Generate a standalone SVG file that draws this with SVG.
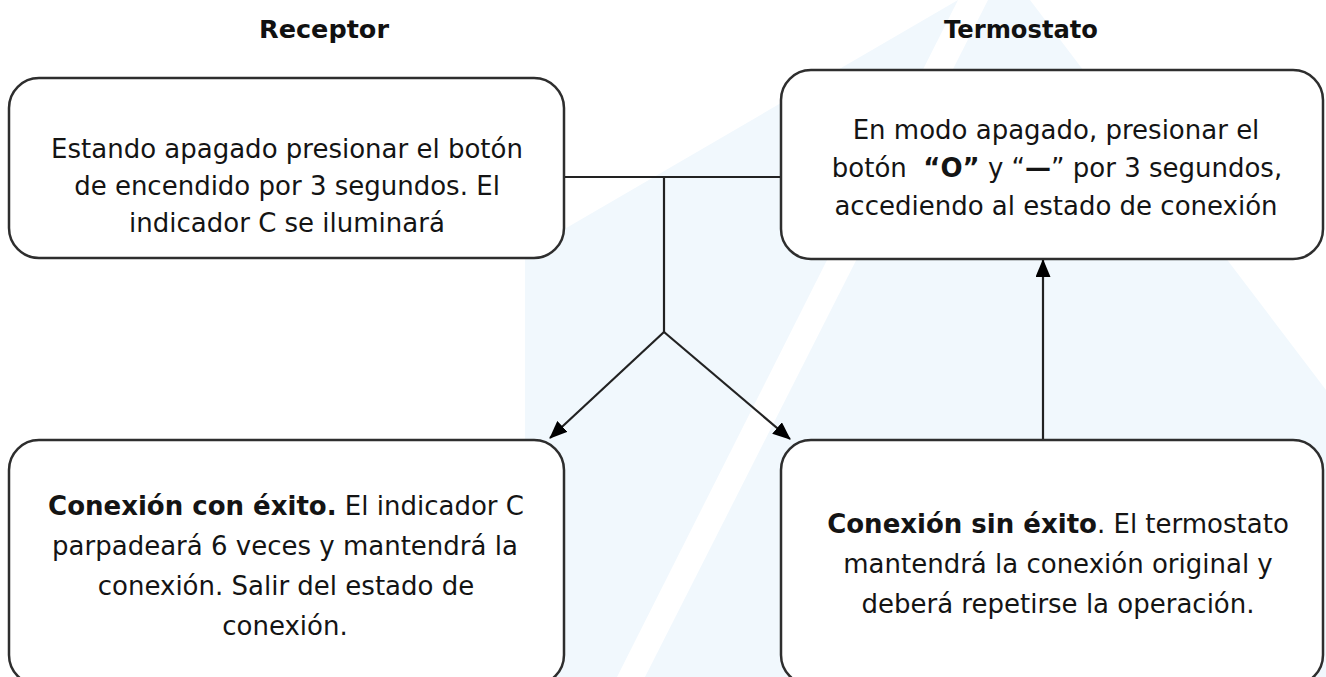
<svg xmlns="http://www.w3.org/2000/svg" width="1326" height="677" viewBox="0 0 1326 677">
  <defs>
    <style>
      .box { fill: #ffffff; stroke: #2e2e2e; stroke-width: 2.5; }
      .txt { font-family: "DejaVu Sans", "Liberation Sans", sans-serif; font-size: 26px; fill: #141414; text-anchor: middle; }
      .b { font-weight: bold; }
      .hdr { font-family: "DejaVu Sans", "Liberation Sans", sans-serif; font-size: 25px; font-weight: bold; fill: #111111; text-anchor: middle; }
      .conn { fill: none; stroke: #222222; stroke-width: 2.2; }
      .wm { fill: #f1f8fd; }
    </style>
    <marker id="arrow" viewBox="0 0 18 15" refX="17" refY="7.5" markerWidth="18" markerHeight="15" markerUnits="userSpaceOnUse" orient="auto">
      <path d="M0,0 L18,7.5 L0,15 z" fill="#000000"/>
    </marker>
  </defs>

  <rect width="1326" height="677" fill="#ffffff"/>

  <g id="watermark">
    <polygon class="wm" points="525,252 958,0 617,677 525,677"/>
    <polygon class="wm" points="988,0 1030,0 1326,390 1326,677 645,677"/>
  </g>

  <g id="headers">
    <text class="hdr" x="324" y="38" textLength="130" lengthAdjust="spacingAndGlyphs">Receptor</text>
    <text class="hdr" x="1021" y="38" textLength="154" lengthAdjust="spacingAndGlyphs">Termostato</text>
  </g>

  <g id="connectors">
    <line class="conn" x1="564" y1="177" x2="781" y2="177"/>
    <line class="conn" x1="664" y1="177" x2="664" y2="332"/>
    <line class="conn" x1="664" y1="332" x2="550" y2="438" marker-end="url(#arrow)"/>
    <line class="conn" x1="664" y1="332" x2="790" y2="439" marker-end="url(#arrow)"/>
    <line class="conn" x1="1043" y1="440" x2="1043" y2="260" marker-end="url(#arrow)"/>
  </g>

  <g id="node-receptor">
    <rect class="box" x="9" y="78" width="555" height="180" rx="30"/>
    <text class="txt" x="287" y="158">Estando apagado presionar el botón</text>
    <text class="txt" x="287" y="195">de encendido por 3 segundos. El</text>
    <text class="txt" x="287" y="232">indicador C se iluminará</text>
  </g>

  <g id="node-termostato">
    <rect class="box" x="781" y="70" width="542" height="189" rx="30"/>
    <text class="txt" x="1056" y="139">En modo apagado, presionar el</text>
    <text class="txt" x="1057" y="177">botón&#160; <tspan class="b">“O”</tspan> y “<tspan class="b">—</tspan>” por 3 segundos,</text>
    <text class="txt" x="1056" y="215">accediendo al estado de conexión</text>
  </g>

  <g id="node-exito">
    <rect class="box" x="9" y="440" width="555" height="245" rx="30"/>
    <text class="txt" x="286" y="515"><tspan class="b">Conexión con éxito.</tspan> El indicador C</text>
    <text class="txt" x="285" y="555">parpadeará 6 veces y mantendrá la</text>
    <text class="txt" x="286" y="595">conexión. Salir del estado de</text>
    <text class="txt" x="285" y="635">conexión.</text>
  </g>

  <g id="node-sin-exito">
    <rect class="box" x="781" y="440" width="542" height="245" rx="30"/>
    <text class="txt" x="1058" y="533"><tspan class="b">Conexión sin éxito</tspan>. El termostato</text>
    <text class="txt" x="1058" y="573">mantendrá la conexión original y</text>
    <text class="txt" x="1058" y="613">deberá repetirse la operación.</text>
  </g>
</svg>
